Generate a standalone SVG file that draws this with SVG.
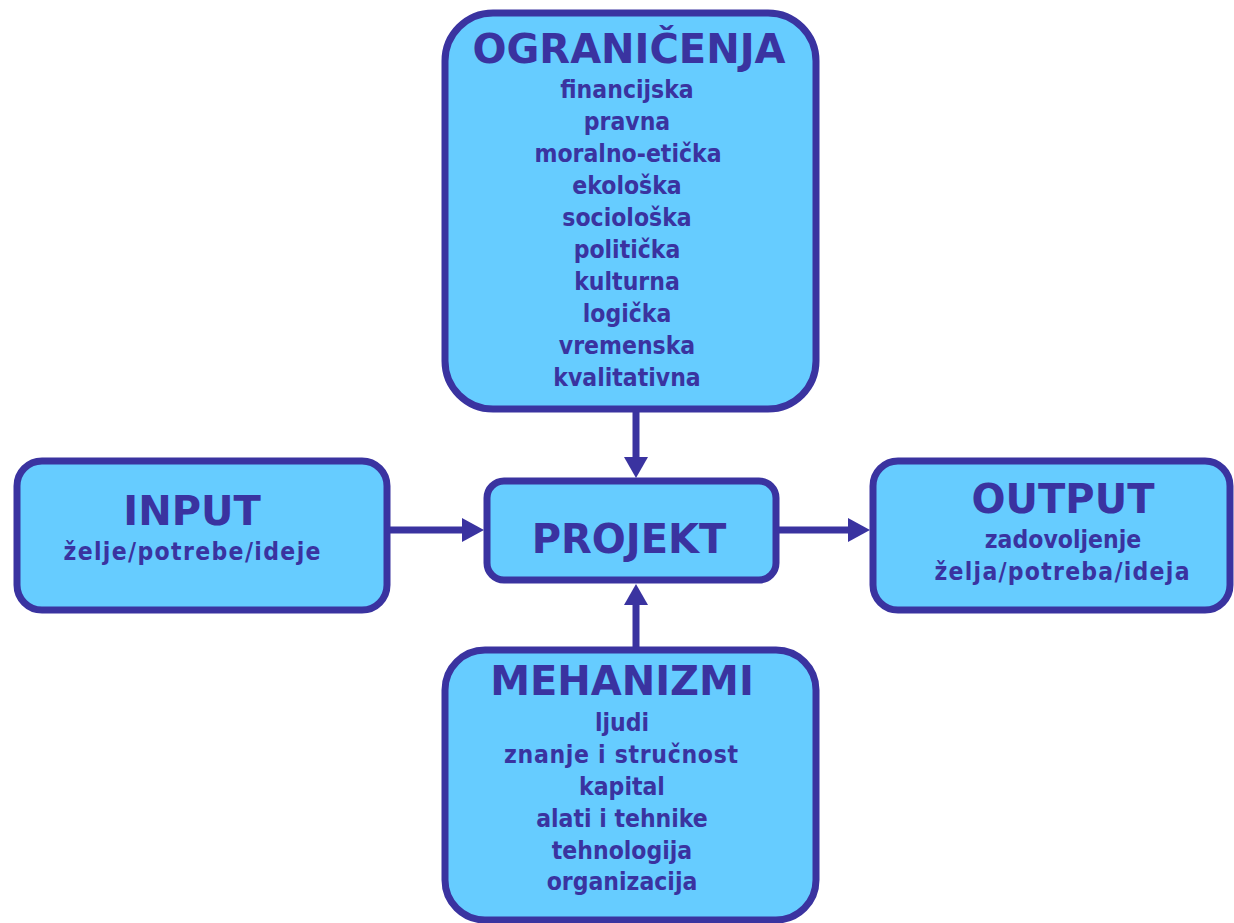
<svg xmlns="http://www.w3.org/2000/svg" width="1234" height="923" viewBox="0 0 1234 923">
<defs>
<style>
.box{fill:#66CCFF;stroke:#3A33A0;stroke-width:7}
.t{font-family:"DejaVu Sans",Verdana,sans-serif;font-weight:bold;fill:#3A33A0;text-anchor:middle}
.h{font-size:40px}
.s{font-family:"DejaVu Sans Condensed","DejaVu Sans",sans-serif;font-size:24.5px}
.c{stroke:#3A33A0;stroke-width:7;fill:none}
.ah{fill:#3A33A0}
</style>
</defs>
<rect width="1234" height="923" fill="#FFFFFF"/>
<g id="connectors">
<line class="c" x1="636" y1="409" x2="636" y2="460"/>
<polygon class="ah" points="624,457 648,457 636,478"/>
<line class="c" x1="387" y1="530" x2="465" y2="530"/>
<polygon class="ah" points="462,518 462,542 484,530"/>
<line class="c" x1="776" y1="530" x2="851" y2="530"/>
<polygon class="ah" points="848,518 848,542 870,530"/>
<line class="c" x1="636" y1="650" x2="636" y2="602"/>
<polygon class="ah" points="624,605 648,605 636,584"/>
</g>
<g id="ogranicenja">
<rect class="box" x="445" y="13" width="371" height="396" rx="48" ry="48"/>
<text class="t h" x="629" y="63">OGRANIČENJA</text>
<text class="t s" x="627" y="98">financijska</text>
<text class="t s" x="627" y="130">pravna</text>
<text class="t s" x="628" y="162">moralno-etička</text>
<text class="t s" x="627" y="194">ekološka</text>
<text class="t s" x="627" y="226">sociološka</text>
<text class="t s" x="627" y="258">politička</text>
<text class="t s" x="627" y="290">kulturna</text>
<text class="t s" x="627" y="322">logička</text>
<text class="t s" x="627" y="354">vremenska</text>
<text class="t s" x="627" y="386">kvalitativna</text>
</g>
<g id="input">
<rect class="box" x="17" y="461" width="370" height="149" rx="25" ry="25"/>
<text class="t h" x="192" y="525">INPUT</text>
<text class="t s" x="192" y="560" textLength="257" lengthAdjust="spacing">želje/potrebe/ideje</text>
</g>
<g id="projekt">
<rect class="box" x="487" y="481" width="289" height="99" rx="17" ry="17"/>
<text class="t h" x="629" y="553">PROJEKT</text>
</g>
<g id="output">
<rect class="box" x="873" y="461" width="357" height="149" rx="25" ry="25"/>
<text class="t h" x="1063" y="513">OUTPUT</text>
<text class="t s" x="1063" y="548">zadovoljenje</text>
<text class="t s" x="1062" y="580" textLength="255" lengthAdjust="spacing">želja/potreba/ideja</text>
</g>
<g id="mehanizmi">
<rect class="box" x="445" y="650" width="371" height="270" rx="40" ry="40"/>
<text class="t h" x="622" y="695">MEHANIZMI</text>
<text class="t s" x="622" y="731">ljudi</text>
<text class="t s" x="621" y="763" textLength="234" lengthAdjust="spacing">znanje i stručnost</text>
<text class="t s" x="622" y="795">kapital</text>
<text class="t s" x="622" y="827">alati i tehnike</text>
<text class="t s" x="622" y="859">tehnologija</text>
<text class="t s" x="622" y="890">organizacija</text>
</g>
</svg>
